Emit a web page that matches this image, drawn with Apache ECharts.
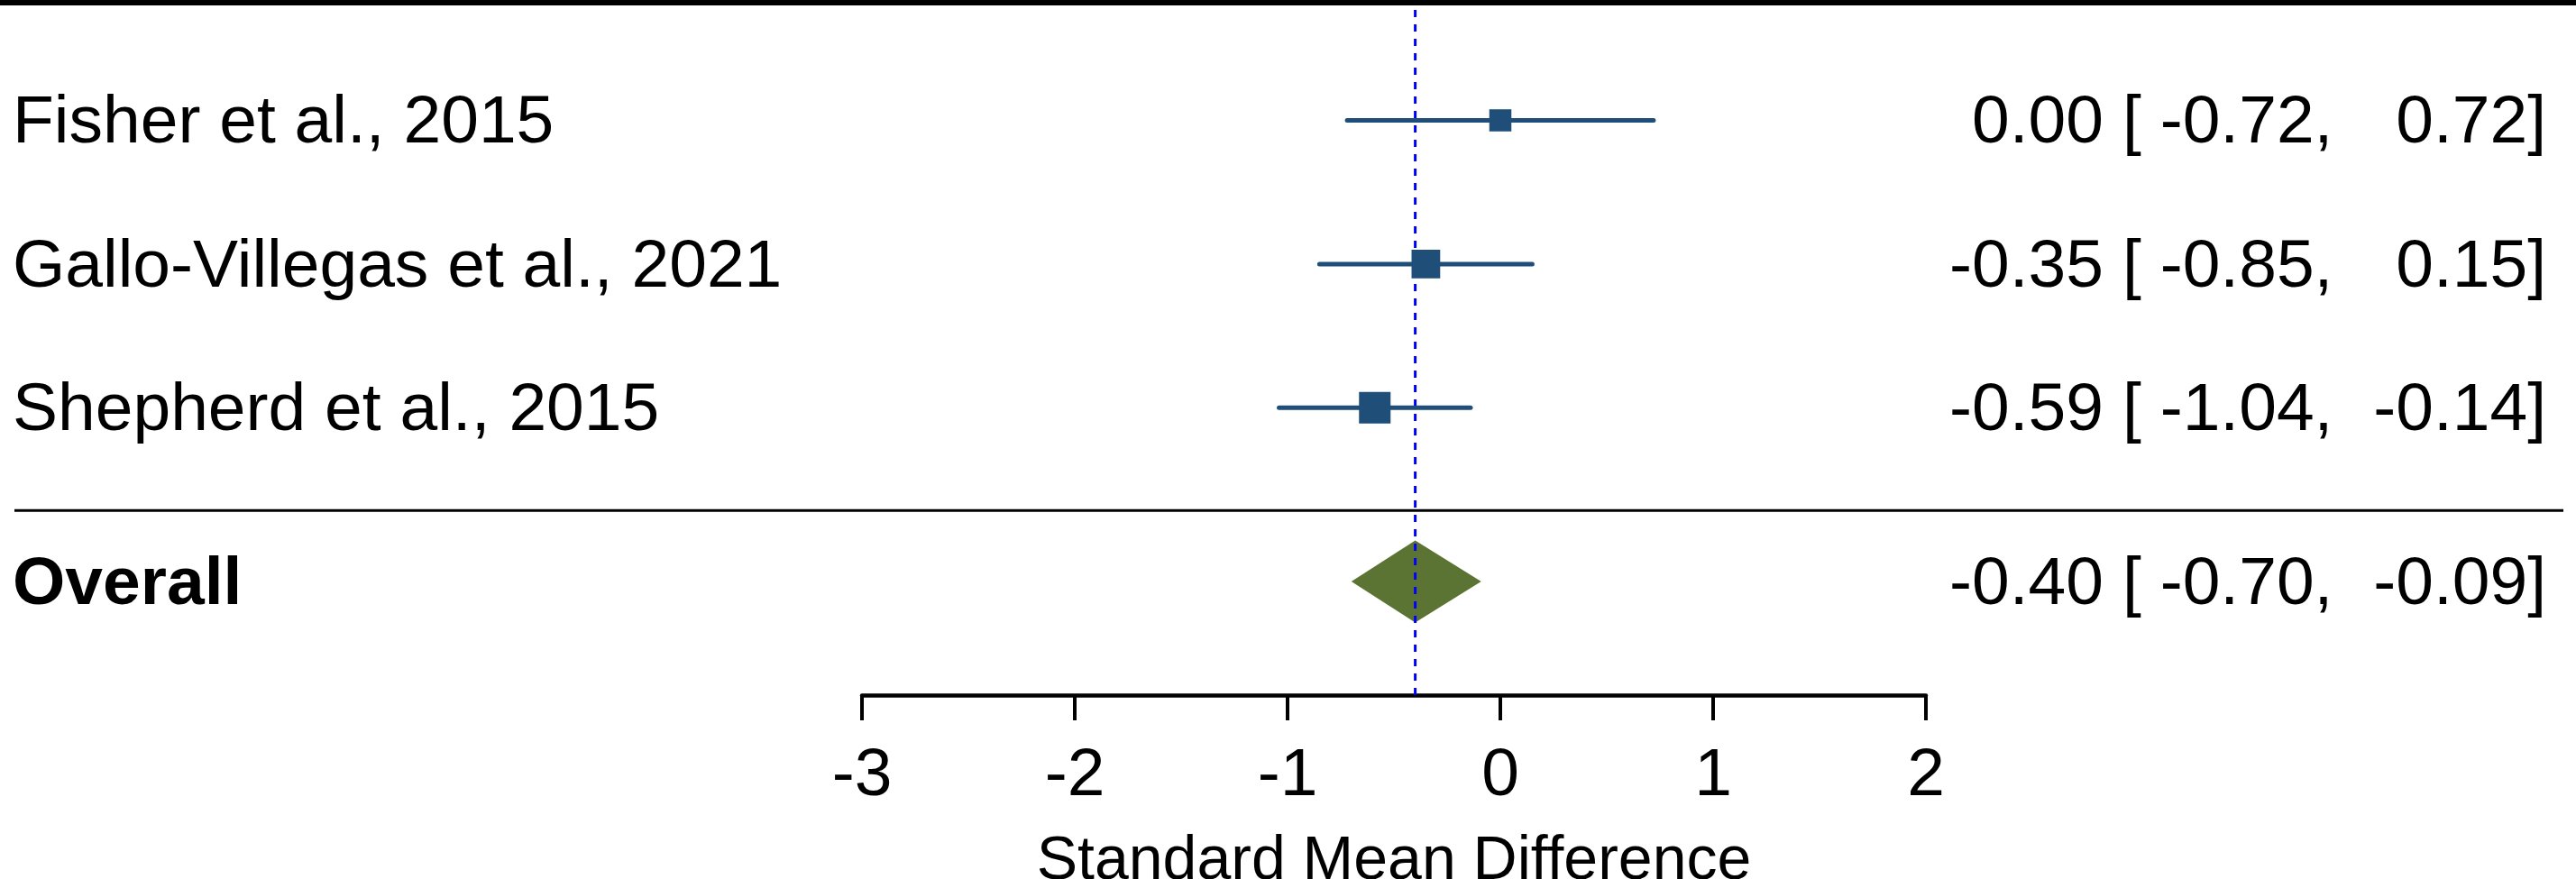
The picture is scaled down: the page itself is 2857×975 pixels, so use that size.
<!DOCTYPE html>
<html>
<head>
<meta charset="utf-8">
<script src="https://cdn.jsdelivr.net/npm/echarts@6/dist/echarts.min.js"></script>
<style>
html,body{margin:0;padding:0;background:#fff;overflow:hidden;}
#chart{width:2857px;height:975px;}
</style>
</head>
<body>
<div id="chart"></div>
<script>
// ---- data ----
const studies = ['Fisher et al., 2015', 'Gallo-Villegas et al., 2021', 'Shepherd et al., 2015'];
const estimates = [0.00, -0.35, -0.59];
const ciLower = [-0.72, -0.85, -1.04];
const ciUpper = [0.72, 0.15, -0.14];
const rowPos = [3, 2, 1];
const overallLabel = 'Overall';
const overallEst = -0.40;
const overallLower = -0.70;
const overallUpper = -0.09;
const overallPos = -0.21;
const separatorPos = 0.285;
const xTicks = [-3, -2, -1, 0, 1, 2];
const axisTitle = 'Standard Mean Difference';

// ---- styles ----
const FONT = '"Liberation Sans", Arial, sans-serif';
const FS = 75;
const BLUE = '#1F4E79';
const GREEN = '#5B7433';

function fmt(v) { return v.toFixed(2); }

// inverse-variance weights from the CIs -> marker size
const weights = ciLower.map((lo, i) => {
  const se = (ciUpper[i] - lo) / (2 * 1.96);
  return 1 / (se * se);
});

const studyData = estimates.map((e, i) => [e, rowPos[i], ciLower[i], ciUpper[i], weights[i], i]);

const chart = echarts.init(document.getElementById('chart'), null, { renderer: 'canvas' });

function textEl(x, y, text, align, bold) {
  return {
    type: 'text',
    style: {
      x: x, y: y, text: text,
      fill: '#000',
      font: (bold ? 'bold ' : '') + FS + 'px ' + FONT,
      align: align,
      verticalAlign: 'middle'
    }
  };
}

const option = {
  backgroundColor: '#fff',
  animation: false,
  grid: { left: 956, right: 721, top: 6, bottom: 204, containLabel: false, outerBoundsMode: 'none' },
  xAxis: {
    type: 'value', min: xTicks[0], max: xTicks[xTicks.length - 1], interval: 1,
    axisLine: { show: true, onZero: false, lineStyle: { color: '#000', width: 4.5 } },
    axisTick: { show: true, length: 28, lineStyle: { color: '#000', width: 4 } },
    axisLabel: { color: '#000', fontSize: FS, fontFamily: FONT, margin: 53,
      formatter: v => String(v) },
    splitLine: { show: false },
    name: axisTitle, nameLocation: 'middle', nameGap: 151,
    nameTextStyle: { color: '#000', fontSize: 68, fontFamily: FONT }
  },
  yAxis: {
    type: 'value', min: -1, max: 3.8, show: false, splitLine: { show: false }
  },
  series: [
    {
      // reference (dashed) line at the overall estimate
      type: 'line',
      data: [[overallEst, -1], [overallEst, 3.77]],
      symbol: 'none',
      lineStyle: { color: '#0000FF', width: 3, type: [8, 8] },
      z: 1
    },
    {
      // frame lines: top rule and separator
      type: 'custom',
      data: [[0, separatorPos]],
      clip: false,
      renderItem: function (params, api) {
        const ySep = api.coord([0, api.value(1)])[1];
        return {
          type: 'group',
          children: [
            { type: 'line', shape: { x1: 0, y1: 3, x2: 2857, y2: 3 },
              style: { stroke: '#000', lineWidth: 6 } },
            { type: 'line', shape: { x1: 16, y1: ySep, x2: 2843, y2: ySep },
              style: { stroke: '#000', lineWidth: 3 } }
          ]
        };
      },
      z: 2
    },
    {
      // study rows
      type: 'custom',
      data: studyData,
      clip: false,
      renderItem: function (params, api) {
        const i = api.value(5);
        const p = api.coord([api.value(0), api.value(1)]);
        const lo = api.coord([api.value(2), api.value(1)]);
        const hi = api.coord([api.value(3), api.value(1)]);
        const size = 17.8 + 0.908 * api.value(4);
        const y = p[1];
        return {
          type: 'group',
          children: [
            { type: 'line', shape: { x1: lo[0], y1: y, x2: hi[0], y2: y },
              style: { stroke: BLUE, lineWidth: 5, lineCap: 'round' } },
            { type: 'rect', shape: { x: p[0] - size / 2, y: y - size / 2, width: size, height: size },
              style: { fill: BLUE } },
            textEl(14, y + 4, studies[i], 'left', false),
            textEl(2333, y + 4, fmt(estimates[i]), 'right', false),
            textEl(2354, y + 4, '[ ' + fmt(ciLower[i]) + ',', 'left', false),
            textEl(2824, y + 4, fmt(ciUpper[i]) + ']', 'right', false)
          ]
        };
      },
      z: 3
    },
    {
      // overall diamond
      type: 'custom',
      data: [[overallEst, overallPos, overallLower, overallUpper]],
      clip: false,
      renderItem: function (params, api) {
        const p = api.coord([api.value(0), api.value(1)]);
        const lo = api.coord([api.value(2), api.value(1)]);
        const hi = api.coord([api.value(3), api.value(1)]);
        const h = 45.5;
        const y = p[1];
        return {
          type: 'group',
          children: [
            { type: 'polygon',
              shape: { points: [[lo[0], y], [p[0], y - h], [hi[0], y], [p[0], y + h]] },
              style: { fill: GREEN } },
            textEl(14, y + 4, overallLabel, 'left', true),
            textEl(2333, y + 4, fmt(overallEst), 'right', false),
            textEl(2354, y + 4, '[ ' + fmt(overallLower) + ',', 'left', false),
            textEl(2824, y + 4, fmt(overallUpper) + ']', 'right', false)
          ]
        };
      },
      z: 0
    }
  ]
};
chart.setOption(option);
</script>
</body>
</html>
